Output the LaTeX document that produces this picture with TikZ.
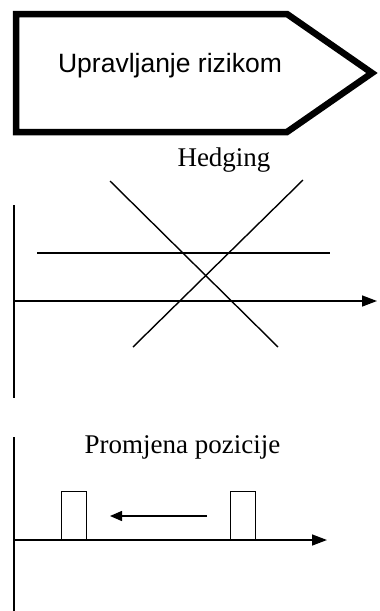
\documentclass[tikz,border=0pt]{standalone}
\usepackage{fontspec}
\setmainfont{Liberation Serif}
\newfontfamily\arialfont{Liberation Sans}
\usetikzlibrary{arrows.meta}
\begin{document}
\begin{tikzpicture}[
    x=1pt, y=-1pt,
    title/.style={anchor=base, inner sep=0pt, font=\fontsize{27}{30}\selectfont},
    axis/.style={line width=1.5pt, -{Triangle[length=15pt,width=11pt]}},
    line/.style={line width=1.4pt},
    bar/.style={draw, line width=1.2pt, minimum width=25pt, minimum height=48pt, inner sep=0pt, anchor=south west},
    arrow/.style={line width=1.4pt, -{Triangle[length=12pt,width=10pt]}}
]
    \useasboundingbox (0,0) rectangle (380,611);

    \draw[line width=6.5pt, line join=miter] (16,14) -- (287,14) -- (372,73) -- (287,132) -- (16,132) -- cycle;
    \node[anchor=base, inner sep=0pt, font=\arialfont\fontsize{26.5}{30}\selectfont] (risk) at (170,72) {Upravljanje rizikom};

    \node[title] (hedge) at (224,166) {Hedging};
    \coordinate (o1) at (14,301);
    \coordinate (top1) at (14,205);
    \coordinate (bot1) at (14,398);
    \coordinate (end1) at (377,301);
    \draw[line] (top1) -- (bot1);
    \draw[axis] (o1) -- (end1);
    \draw[line] (37,253) -- (330,253);
    \draw[line] (110,181) -- (278,347);
    \draw[line] (133,347) -- (303,180);

    \node[title] (shift) at (182.5,453) {Promjena pozicije};
    \coordinate (o2) at (14,540);
    \coordinate (top2) at (14,437);
    \coordinate (end2) at (327,540);
    \draw[line] (top2) -- (14,611);
    \draw[axis] (o2) -- (end2);
    \node[bar] (old) at (61,540) {};
    \node[bar] (new) at (230,540) {};
    \draw[arrow] (207,516) -- (110,516);
\end{tikzpicture}
\end{document}
